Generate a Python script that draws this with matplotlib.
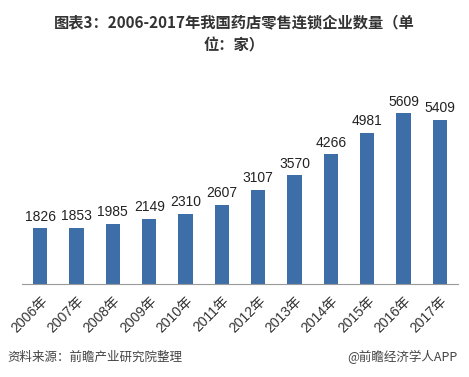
import matplotlib.pyplot as plt

plt.rcParams['font.family'] = ['Noto Sans CJK SC', 'DejaVu Sans']

years = ['2006年', '2007年', '2008年', '2009年', '2010年', '2011年',
         '2012年', '2013年', '2014年', '2015年', '2016年', '2017年']
counts = [1826, 1853, 1985, 2149, 2310, 2607, 3107, 3570, 4266, 4981, 5609, 5409]

fig = plt.figure(figsize=(4.69, 3.77), dpi=100)
ax = fig.add_axes([0.047, 0.2467, 0.9295, 0.488])

x = range(len(years))
bars = ax.bar(x, counts, width=0.4, color='#3d6ea8')
for xi, v in zip(x, counts):
    ax.text(xi, v + 150, str(v), ha='center', va='bottom', fontsize=10,
            color='#222222', family=['Liberation Sans', 'DejaVu Sans'])

ax.set_xlim(-0.5, len(years) - 0.5)
ax.set_ylim(0, 6050)
ax.set_xticks(list(x))
ax.set_xticklabels(years, rotation=45, ha='right', rotation_mode='anchor',
                   fontsize=10, color='#333333',
                   family=['Liberation Sans', 'Noto Sans CJK SC'])
ax.tick_params(axis='x', length=0, pad=7)
ax.set_yticks([])
for s in ['top', 'right', 'left']:
    ax.spines[s].set_visible(False)
ax.spines['bottom'].set_color('#999999')

fig.text(0.5, 0.94, '图表3：2006-2017年我国药店零售连锁企业数量（单',
         ha='center', va='center', fontsize=11, fontweight='bold', color='#333333')
fig.text(0.5, 0.88, '位：家）',
         ha='center', va='center', fontsize=11, fontweight='bold', color='#333333')

fig.text(0.015, 0.052, '资料来源：前瞻产业研究院整理', ha='left', va='center',
         fontsize=9, color='#444444', style='italic')
fig.text(0.975, 0.052, '@前瞻经济学人APP', ha='right', va='center',
         fontsize=9, color='#444444')

fig.savefig('out.png', dpi=100)
